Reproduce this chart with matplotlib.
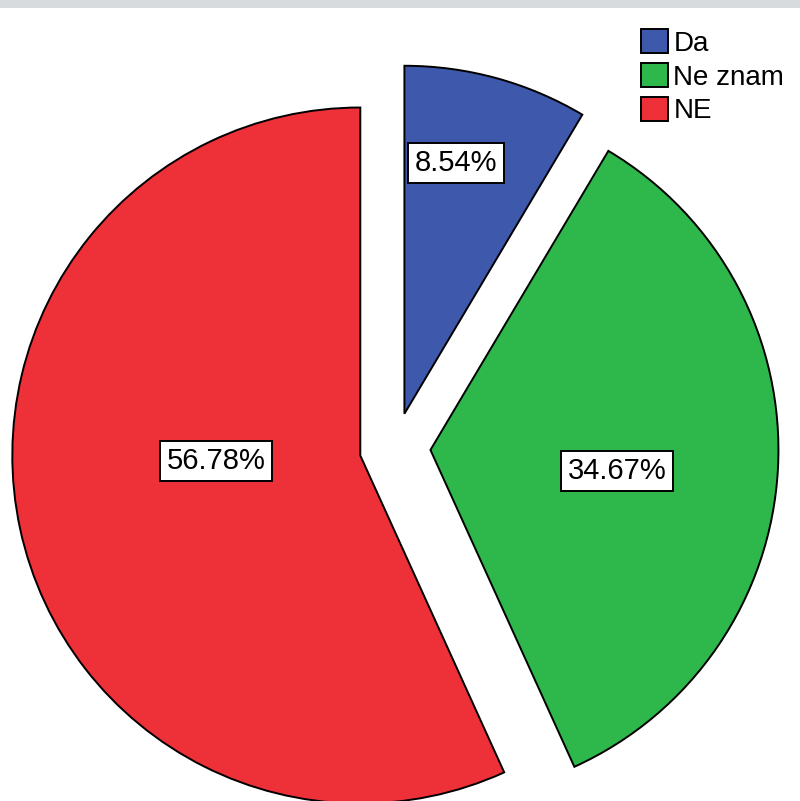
import matplotlib
matplotlib.use("Agg")
import matplotlib.pyplot as plt
from matplotlib.patches import Rectangle

plt.rcParams['font.family'] = ['Liberation Sans', 'DejaVu Sans']

labels = ['Da', 'Ne znam', 'NE']
shares = [8.54, 34.67, 56.78]
colors = ['#3e58ac', '#2eb84b', '#ee3039']

# label box centres, in pixel coords of the 800x801 canvas (y from top)
label_pos = [(456, 163), (617, 471), (216, 461)]

W, H = 800, 801
fig = plt.figure(figsize=(W / 100, H / 100), dpi=100)
fig.patch.set_facecolor('white')
ax = fig.add_axes([0, 0, 1, 1])
ax.set_xlim(0, W)
ax.set_ylim(0, H)
ax.set_aspect('equal')
ax.axis('off')

# thin grey strip along the top edge
fig.patches.append(Rectangle((0, 1 - 8 / H), 1, 8 / H, transform=fig.transFigure,
                             facecolor='#d7dbde', edgecolor='none'))

# explode is in data units (pixels here)
wedges, texts, autotexts = ax.pie(
    shares, colors=colors, startangle=90, counterclock=False,
    explode=[35.5] * 3, radius=348, center=(395, H - 448),
    autopct='%.2f%%', pctdistance=0.5,
    wedgeprops=dict(edgecolor='black', linewidth=1.4),
    textprops=dict(fontsize=21, color='black'))

for t, v, (px, py) in zip(autotexts, shares, label_pos):
    t.set_text('%.2f%%' % v)
    t.set_position((px, H - py))
    t.set_ha('center')
    t.set_va('center')
    t.set_bbox(dict(facecolor='white', edgecolor='black', linewidth=1.4,
                    boxstyle='square,pad=0.22'))

ax.set_xlim(0, W)
ax.set_ylim(0, H)

leg = fig.legend(wedges, labels, loc='upper left',
                 bbox_to_anchor=(622 / W, 1 - 10 / H), frameon=False,
                 fontsize=20, handlelength=0.95, handleheight=0.95,
                 handletextpad=0.2, labelspacing=0.22, borderpad=0.2)
for h in leg.legend_handles:
    h.set_edgecolor('black')
    h.set_linewidth(1.4)

fig.savefig('out.png', dpi=100, facecolor='white')
